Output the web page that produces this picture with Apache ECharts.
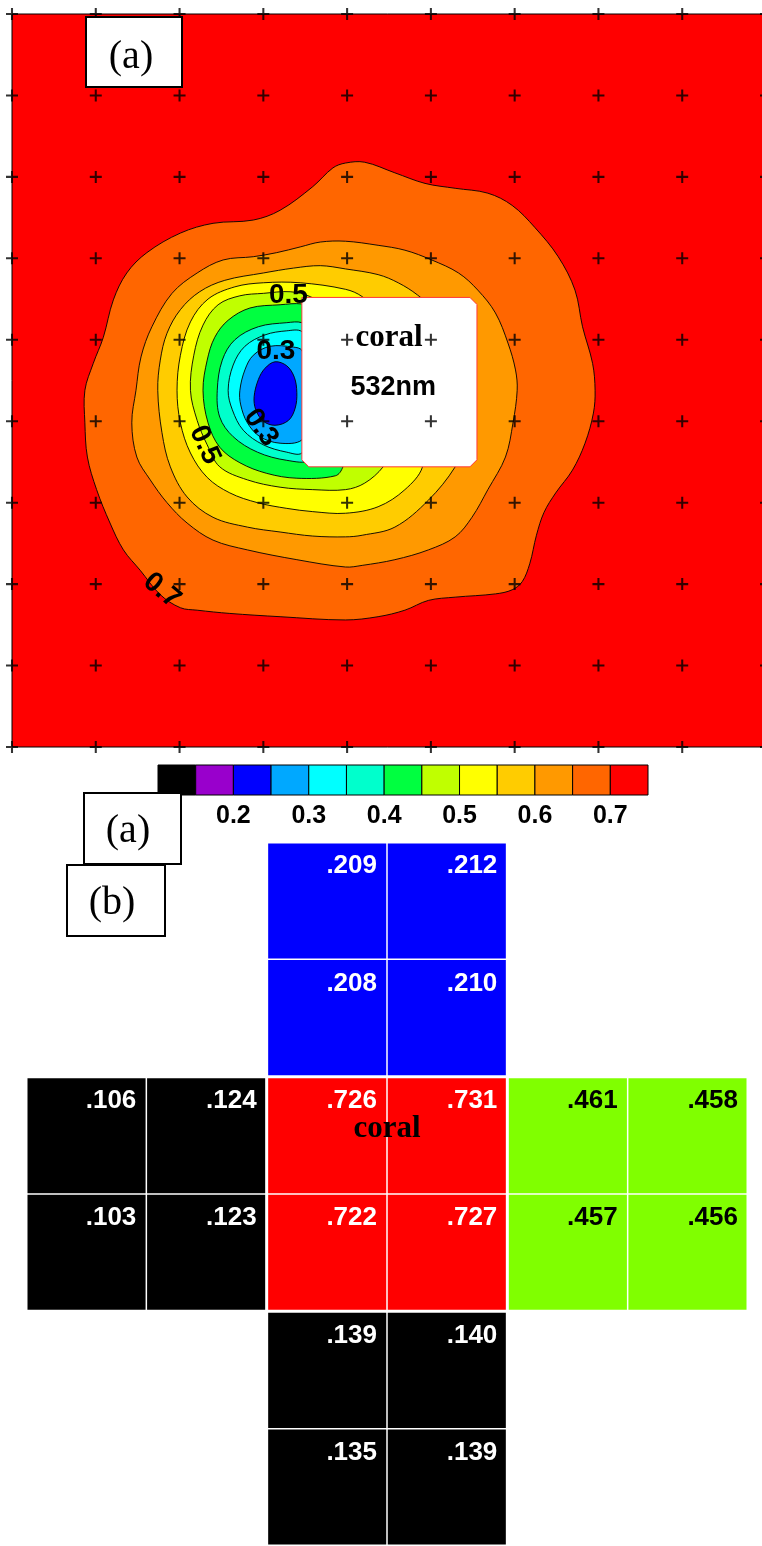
<!DOCTYPE html>
<html><head><meta charset="utf-8">
<script src="https://cdn.jsdelivr.net/npm/echarts@6/dist/echarts.min.js"></script>
<style>html,body{margin:0;padding:0;background:#fff}#c{width:762px;height:1546px}</style>
</head><body><div id="c"></div>
<script>
// ---------- DATA ----------
// grid of sample points (crosses), in grid units (one step = 10)
const gridTicks = [0,10,20,30,40,50,60,70,80,90];

// colour scale (bins of 0.05)
const cbEdges = [0.10,0.15,0.20,0.25,0.30,0.35,0.40,0.45,0.50,0.55,0.60,0.65,0.70,0.75];
const cbColors = ['#000000','#9900CC','#0000FF','#00A8FF','#00FFFF','#00FFCC','#00FF40','#C0FF00','#FFFF00','#FFCC00','#FF9900','#FF6600','#FF0000'];
const cbTickValues = [0.2,0.3,0.4,0.5,0.6,0.7];

// contour levels and their outlines, [x, y] in grid units (y down)
const contourLevels = [0.70,0.65,0.60,0.55,0.50,0.45,0.40,0.35,0.30,0.25];
const c070 = [[39.8,18.3],[42.1,18.2],[45.7,19.5],[49.3,20.8],[52.9,21.4],[56.8,22.0],[59.7,23.5],[62.4,26.2],[65.2,29.8],[67.2,33.9],[68.1,38.4],[69.3,42.9],[69.6,46.2],[69.4,49.0],[68.4,52.7],[66.9,56.0],[64.9,58.8],[63.5,61.2],[62.6,64.0],[61.8,67.5],[60.9,69.7],[59.7,70.7],[57.7,71.2],[52.9,71.6],[49.7,72.0],[46.9,73.2],[43.7,74.0],[39.8,74.4],[32.0,74.0],[26.0,73.6],[22.1,73.2],[20.1,72.9],[17.7,71.3],[15.3,68.3],[13.3,65.8],[11.7,62.5],[10.1,58.4],[9.0,54.4],[8.7,50.2],[8.7,46.2],[9.7,42.9],[10.9,39.7],[12.1,35.1],[13.7,31.8],[16.1,29.3],[20.1,26.9],[24.0,25.7],[28.8,25.3],[32.0,24.1],[35.9,21.2],[38.3,18.9]];
const c065 = [[14.8,46.2],[15.4,42.1],[16.7,38.4],[19.1,34.3],[22.1,31.8],[25.2,30.2],[28.8,29.8],[31.6,29.3],[34.4,28.6],[36.8,28.0],[39.8,27.9],[43.7,28.4],[46.9,29.0],[50.1,30.2],[53.3,31.8],[55.6,33.9],[57.7,36.7],[59.2,40.4],[60.1,43.7],[60.3,46.2],[59.8,50.2],[58.9,54.4],[56.8,58.4],[54.9,61.8],[52.9,64.2],[49.7,65.8],[45.7,67.0],[41.8,67.7],[39.8,67.9],[34.0,67.0],[28.1,65.8],[24.0,64.6],[20.9,62.5],[18.5,60.0],[16.5,57.2],[14.9,54.4],[14.3,50.2]];
const c060 = [[17.4,46.2],[17.7,42.5],[18.5,39.2],[20.1,36.3],[22.4,34.1],[25.4,32.7],[30.0,31.8],[33.6,31.2],[36.8,30.9],[39.8,31.3],[43.7,32.0],[46.1,33.0],[48.4,34.5],[51.1,37.0],[53.3,40.6],[54.2,44.9],[54.2,49.9],[53.5,53.5],[52.9,55.6],[49.7,59.7],[45.7,63.0],[41.8,64.0],[39.8,64.2],[35.9,64.1],[32.0,63.6],[28.1,63.0],[24.0,61.8],[20.9,59.3],[18.9,55.6],[17.9,51.4]];
const c055 = [[19.7,46.2],[20.1,41.9],[21.3,37.8],[23.4,35.0],[26.6,33.5],[30.0,33.0],[34.4,33.0],[39.8,33.8],[41.8,34.7],[45.1,37.6],[47.5,42.5],[48.5,47.4],[48.7,52.3],[49.0,55.6],[46.9,58.4],[43.7,60.5],[39.8,61.3],[35.9,61.1],[32.8,60.7],[29.3,60.0],[26.0,58.8],[23.3,56.9],[21.3,53.9],[20.1,50.2]];
const c050 = [[21.3,46.2],[21.7,41.9],[22.8,38.2],[24.6,35.7],[27.2,34.6],[30.0,34.3],[33.2,34.1],[35.6,34.7],[38.0,36.3],[41.3,40.0],[43.7,44.9],[44.9,49.9],[44.7,54.2],[44.3,55.6],[42.1,57.6],[39.8,58.4],[35.9,58.4],[32.0,58.1],[28.1,57.2],[24.8,55.6],[23.3,52.9],[22.1,49.9]];
const c045 = [[22.8,46.2],[23.3,42.5],[24.2,39.7],[25.8,37.6],[28.4,36.1],[32.0,35.7],[34.6,35.6],[36.8,36.3],[38.6,38.8],[39.8,42.5],[40.4,47.4],[40.2,52.3],[39.5,55.6],[38.6,56.7],[34.0,57.0],[30.4,56.4],[27.2,55.1],[24.8,53.2],[23.4,50.2]];
const c040 = [[24.5,46.2],[25.1,42.5],[26.6,40.0],[29.4,38.4],[32.8,37.9],[34.6,37.9],[36.2,39.0],[37.4,42.5],[37.7,47.4],[37.0,52.3],[35.6,54.8],[32.8,54.8],[29.3,53.8],[26.4,51.9],[24.8,49.5]];
const c035 = [[25.8,46.2],[26.4,43.1],[27.8,40.8],[30.2,39.4],[32.8,38.9],[34.6,39.0],[35.8,41.3],[36.3,46.2],[35.8,51.1],[34.6,53.9],[32.8,53.8],[30.0,52.9],[27.6,51.1],[26.3,48.6]];
const c030 = [[27.2,46.2],[27.8,43.7],[28.8,41.9],[30.8,40.8],[33.6,40.9],[34.6,41.3],[35.3,43.7],[35.6,46.8],[35.3,49.9],[34.6,52.3],[32.0,52.7],[29.6,51.9],[28.1,50.2],[27.3,48.0]];
const c025 = [[31.4,42.7],[32.8,43.2],[33.7,44.6],[34.0,46.5],[33.8,48.4],[33.0,49.9],[31.4,50.5],[30.0,50.0],[29.1,48.6],[28.9,47.0],[29.4,44.9],[30.2,43.5]];
const contours = [c070,c065,c060,c055,c050,c045,c040,c035,c030,c025];

// contour line labels
const contourLabelText = ['0.5','0.3','0.3','0.5','0.7'];

// panel (b): [column, row, value]
const cellValues = [
  [2,0,0.209],[3,0,0.212],
  [2,1,0.208],[3,1,0.210],
  [0,2,0.106],[1,2,0.124],[2,2,0.726],[3,2,0.731],[4,2,0.461],[5,2,0.458],
  [0,3,0.103],[1,3,0.123],[2,3,0.722],[3,3,0.727],[4,3,0.457],[5,3,0.456],
  [2,4,0.139],[3,4,0.140],
  [2,5,0.135],[3,5,0.139]
];
const cellPieces = [
  {lt:0.15, color:'#000000'},
  {gte:0.20, lt:0.25, color:'#0000FF'},
  {gte:0.45, lt:0.50, color:'#80FF00'},
  {gte:0.70, color:'#FF0000'}
];

// ---------- annotation layout ----------
const contourLabelPos = [
  {x:33.0, y:34.5, rot:0},
  {x:31.5, y:41.4, rot:0},
  {x:29.7, y:50.8, rot:-55},
  {x:23.0, y:52.9, rot:-65},
  {x:17.9, y:70.8, rot:-40}
];
const coralBox = {x0:34.6, x1:55.5, y0:34.8, y1:55.6};

const SANS = '"Liberation Sans", Arial, sans-serif';
const SERIF = '"Liberation Serif", "Times New Roman", serif';

function binColor(level){
  const i = cbEdges.findIndex(e => Math.abs(e - level) < 1e-9) - 1;
  return cbColors[i];
}
function fmt(v){ return v.toFixed(3).replace(/^0/, ''); }

const crossPts = [];
gridTicks.forEach(x => gridTicks.forEach(y => crossPts.push([x, y])));

const chart = echarts.init(document.getElementById('c'), null, {renderer:'canvas'});
const option = {
  animation:false,
  backgroundColor:'#ffffff',
  grid:[
    {left:12, top:14, width:754, height:733, show:true, backgroundColor:'#FF0000', borderColor:'#000', borderWidth:1, outerBoundsMode:'none'},
    {left:158, top:765, width:490, height:30, outerBoundsMode:'none'},
    {left:26, top:842, width:722, height:704, outerBoundsMode:'none'}
  ],
  xAxis:[
    {gridIndex:0, type:'value', min:0, max:90, show:false},
    {gridIndex:1, type:'value', min:0.1, max:0.75,
      axisLine:{show:false}, axisTick:{show:false}, splitLine:{show:false},
      axisLabel:{customValues:cbTickValues, formatter:v => v.toFixed(1), color:'#000', fontFamily:SANS, fontWeight:'bold', fontSize:25, margin:9}},
    {gridIndex:2, type:'value', min:0, max:6, show:false}
  ],
  yAxis:[
    {gridIndex:0, type:'value', min:0, max:90, inverse:true, show:false},
    {gridIndex:1, type:'value', min:0, max:1, show:false},
    {gridIndex:2, type:'value', min:0, max:6, inverse:true, show:false}
  ],
  visualMap:[{type:'piecewise', show:false, seriesIndex:5, dimension:2, pieces:cellPieces}],
  series:[
    { // 0 filled contours
      type:'custom', xAxisIndex:0, yAxisIndex:0, z:2, silent:true,
      data: contourLevels.map((L,i)=>[i, L]),
      renderItem:(params, api)=>{
        const i = params.dataIndex;
        const pts = contours[i].map(p => api.coord(p));
        return {type:'polygon', shape:{points:pts, smooth:0.35},
          style:{fill:binColor(contourLevels[i]), stroke:'#000', lineWidth:0.9}};
      }
    },
    { // 1 white annotation box
      type:'custom', xAxisIndex:0, yAxisIndex:0, z:3, silent:true,
      data:[[coralBox.x0, coralBox.y0]],
      renderItem:(params, api)=>{
        const a = api.coord([coralBox.x0, coralBox.y0]);
        const b = api.coord([coralBox.x1, coralBox.y1]);
        const k = 7;
        const pts = [[a[0],a[1]],[b[0]-k,a[1]],[b[0],a[1]+k],[b[0],b[1]-k],[b[0]-k,b[1]],[a[0]+k,b[1]],[a[0],b[1]-k]];
        return {type:'polygon', shape:{points:pts}, style:{fill:'#fff', stroke:'#ff3a3a', lineWidth:1}};
      }
    },
    { // 2 contour labels
      type:'custom', xAxisIndex:0, yAxisIndex:0, z:4, silent:true,
      data: contourLabelText.map((t,i)=>[contourLabelPos[i].x, contourLabelPos[i].y]),
      renderItem:(params, api)=>{
        const i = params.dataIndex, p = contourLabelPos[i];
        const c = api.coord([p.x, p.y]);
        return {type:'text', x:c[0], y:c[1], rotation:p.rot*Math.PI/180,
          style:{text:contourLabelText[i], fill:'#000', font:'bold 28px ' + SANS, align:'center', verticalAlign:'middle'}};
      }
    },
    { // 3 sample-point crosses
      type:'scatter', xAxisIndex:0, yAxisIndex:0, z:5, silent:true, clip:false,
      symbol:'path://M5.8,0H8.2V5.8H14V8.2H8.2V14H5.8V8.2H0V5.8H5.8Z', symbolSize:12,
      itemStyle:{color:'#000'}, data:crossPts
    },
    { // 4 box texts
      type:'custom', xAxisIndex:0, yAxisIndex:0, z:6, silent:true,
      data:[[45.0, 39.8]],
      renderItem:(params, api)=>{
        const c1 = api.coord([45.0, 39.8]);
        const c2 = api.coord([45.5, 45.9]);
        return {type:'group', children:[
          {type:'text', x:c1[0], y:c1[1], style:{text:'coral', fill:'#000', font:'bold 31px ' + SERIF, align:'center', verticalAlign:'middle'}},
          {type:'text', x:c2[0], y:c2[1], style:{text:'532nm', fill:'#000', font:'bold 27px ' + SANS, align:'center', verticalAlign:'middle'}}
        ]};
      }
    },
    { // 5 panel (b) cells
      type:'custom', xAxisIndex:2, yAxisIndex:2, z:2, silent:true,
      dimensions:['col','row','value'], encode:{x:0, y:1},
      data:cellValues,
      renderItem:(params, api)=>{
        const c = api.value(0), r = api.value(1), v = api.value(2);
        const p0 = api.coord([c, r]), p1 = api.coord([c+1, r+1]);
        const gl = c%2===0 ? 1.5 : 0.75, gr = c%2===1 ? 1.5 : 0.75;
        const gt = r%2===0 ? 1.5 : 0.75, gb = r%2===1 ? 1.5 : 0.75;
        const color = api.visual('color');
        const txt = (v >= 0.45 && v < 0.5) ? '#000' : '#fff';
        return {type:'group', children:[
          {type:'rect', shape:{x:p0[0]+gl, y:p0[1]+gt, width:p1[0]-p0[0]-gl-gr, height:p1[1]-p0[1]-gt-gb}, style:{fill:color}},
          {type:'text', x:p1[0]-10, y:p0[1]+24, style:{text:fmt(v), fill:txt, font:'bold 26px ' + SANS, align:'right', verticalAlign:'middle'}}
        ]};
      }
    },
    { // 6 "coral" label in panel (b)
      type:'custom', xAxisIndex:2, yAxisIndex:2, z:6, silent:true,
      data:[[3.0, 2.45]],
      renderItem:(params, api)=>{
        const c = api.coord([3.0, 2.45]);
        return {type:'text', x:c[0], y:c[1], style:{text:'coral', fill:'#000', font:'bold 31px ' + SERIF, align:'center', verticalAlign:'middle'}};
      }
    },
    { // 7 colour bar
      type:'custom', xAxisIndex:1, yAxisIndex:1, z:2, silent:true,
      data: cbColors.map((col,i)=>[cbEdges[i], cbEdges[i+1], i]),
      renderItem:(params, api)=>{
        const lo = api.value(0), hi = api.value(1), i = api.value(2);
        const a = api.coord([lo, 1]), b = api.coord([hi, 0]);
        return {type:'rect', shape:{x:a[0], y:a[1], width:b[0]-a[0], height:b[1]-a[1]},
          style:{fill:cbColors[i], stroke:'#000', lineWidth:1}};
      }
    }
  ],
  graphic:[
    {type:'rect', z:100, shape:{x:86, y:17, width:96, height:70}, style:{fill:'#fff', stroke:'#000', lineWidth:2}},
    {type:'text', z:101, x:131, y:57, style:{text:'(a)', fill:'#000', font:'40px ' + SERIF, align:'center', verticalAlign:'middle'}},
    {type:'rect', z:100, shape:{x:84, y:793, width:97, height:71}, style:{fill:'#fff', stroke:'#000', lineWidth:2}},
    {type:'text', z:101, x:128, y:831, style:{text:'(a)', fill:'#000', font:'40px ' + SERIF, align:'center', verticalAlign:'middle'}},
    {type:'rect', z:100, shape:{x:67, y:865, width:98, height:71}, style:{fill:'#fff', stroke:'#000', lineWidth:2}},
    {type:'text', z:101, x:112, y:903, style:{text:'(b)', fill:'#000', font:'40px ' + SERIF, align:'center', verticalAlign:'middle'}}
  ]
};
chart.setOption(option);
</script></body></html>
